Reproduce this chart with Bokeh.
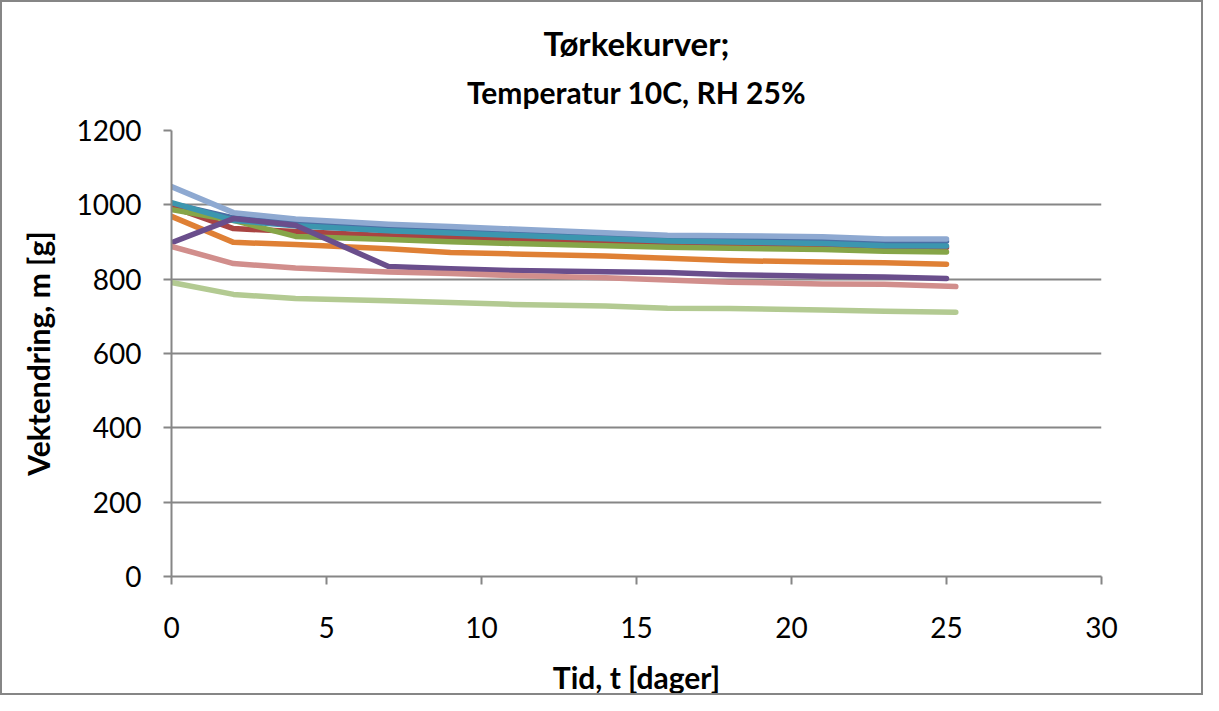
from bokeh.plotting import figure
from bokeh.models import Range1d, Title, SingleIntervalTicker
from bokeh.embed import file_html
from bokeh.resources import INLINE

days = [0, 2, 4, 7, 9, 11, 14, 16, 18, 21, 23, 25]
days_pink = [0, 2, 4, 7, 9, 11, 14, 16, 18, 21, 23, 25.3]
days_lgreen = [-0.3, 2, 4, 7, 9, 11, 14, 16, 18, 21, 23, 25.3]

blue = [1003, 965, 950, 938, 932, 925, 916, 910, 908, 905, 902, 902]
red = [995, 936, 928, 917, 912, 906, 900, 895, 891, 888, 886, 885]
green = [987, 958, 915, 907, 901, 896, 890, 886, 883, 880, 875, 873]
teal = [1006, 958, 944, 930, 924, 918, 909, 903, 900, 896, 890, 889]
orange = [969, 899, 893, 882, 872, 868, 862, 856, 850, 846, 844, 840]
purple = [898, 963, 945, 834, 828, 823, 820, 818, 812, 808, 806, 802]
lightblue = [1049, 979, 962, 948, 942, 935, 925, 918, 917, 914, 908, 908]
pink = [888, 842, 830, 819, 815, 810, 804, 798, 792, 787, 786, 780]
lightgreen = [796, 759, 748, 742, 737, 732, 728, 722, 721, 717, 714, 711]

title = "Tørkekurver;"
subtitle = "Temperatur 10C, RH 25%"
xlabel = "Tid, t [dager]"
ylabel = "Vektendring, m [g]"

FONT = "Lato"
GRAY = "#868686"

p = figure(width=1203, height=695, output_backend="svg", toolbar_location=None,
           x_range=Range1d(0, 30), y_range=Range1d(0, 1200),
           min_border_left=169, min_border_right=104, min_border_top=128,
           min_border_bottom=121)
p.title = None
p.outline_line_color = None
p.background_fill_color = "white"
p.border_fill_color = "white"
p.styles = {"border": "2px solid #868686"}

p.xgrid.grid_line_color = None
p.ygrid.grid_line_color = GRAY
p.ygrid.grid_line_width = 2

p.xaxis.ticker = SingleIntervalTicker(interval=5)
p.yaxis.ticker = SingleIntervalTicker(interval=200)
for ax in (p.xaxis[0], p.yaxis[0]):
    ax.axis_line_color = GRAY
    ax.axis_line_width = 2
    ax.major_tick_line_color = GRAY
    ax.major_tick_line_width = 2
    ax.major_tick_in = 0
    ax.major_tick_out = 8
    ax.minor_tick_line_color = None
    ax.major_label_text_font = FONT
    ax.major_label_text_font_size = "28px"
    ax.major_label_text_color = "black"
    ax.axis_label_text_font = FONT
    ax.axis_label_text_font_style = "bold"
    ax.axis_label_text_font_size = "30px"
    ax.axis_label_text_color = "black"

p.xaxis.axis_label = xlabel
p.yaxis.axis_label = ylabel
p.xaxis.major_label_standoff = 32
p.yaxis.major_label_standoff = 22
p.xaxis.axis_label_standoff = 18
p.yaxis.axis_label_standoff = 18
p.xaxis.axis_label_text_line_height = 0.9

series = [
    (days, blue, "#4A6FA5"),
    (days, red, "#A94442"),
    (days, green, "#86A548"),
    (days, teal, "#3C96AF"),
    (days, orange, "#DF8035"),
    (days, purple, "#6A4E8C"),
    (days, lightblue, "#8EA9D1"),
    (days_pink, pink, "#D18E8C"),
    (days_lgreen, lightgreen, "#B3CA92"),
]
for xs, ys, c in series:
    p.line(xs, ys, line_color=c, line_width=5.5, line_join="round", line_cap="round")

p.add_layout(Title(text=subtitle, align="center", text_font=FONT, text_font_style="bold",
                   text_font_size="30px", text_color="black", standoff=41), "above")
p.add_layout(Title(text=title, align="center", text_font=FONT, text_font_style="bold",
                   text_font_size="33px", text_color="black", standoff=-23), "above")

open("out.html", "w").write(file_html(p, INLINE))
